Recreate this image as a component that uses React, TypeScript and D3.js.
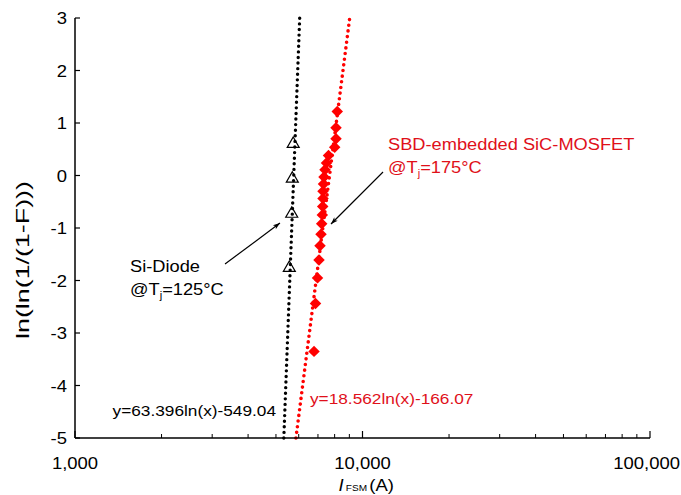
import React from 'react';
import * as d3 from 'd3';

// Si-Diode @ Tj=125°C, median-rank points
const diodeCurrent = [5565, 5673, 5700, 5741];
const diodeRank = [-1.75, -0.72, -0.05, 0.61];

// SBD-embedded SiC-MOSFET @ Tj=175°C, median-rank points
const mosCurrent = [6783, 6864, 6975, 7059, 7116, 7173, 7213, 7248, 7271, 7288,
    7288, 7317, 7347, 7406, 7496, 7616, 8004, 8087, 8087, 8171];
const mosRank = [-3.35, -2.44, -1.95, -1.61, -1.34, -1.12, -0.92, -0.75, -0.59, -0.44,
    -0.30, -0.16, -0.03, 0.11, 0.24, 0.38, 0.54, 0.70, 0.91, 1.22];

// trend lines (end points read at y=-5 and y=3)
const diodeFitX = [5325, 6047];
const mosFitX = [5868, 9026];
const fitY = [-5, 3];

const yTicks = [-5, -4, -3, -2, -1, 0, 1, 2, 3];
const xMajor = [1000, 10000, 100000];
const xMinor = [2000, 3000, 4000, 5000, 6000, 7000, 8000, 9000,
    20000, 30000, 40000, 50000, 60000, 70000, 80000, 90000];

const RED = '#ff0000';
const TEXT_RED = '#e0101a';
const FONT = 'Liberation Sans, Arial, sans-serif';
const STRETCH = 1.12; // text in the original is a little wider than it is tall

const width = 681;
const height = 495;
const margin = { top: 18, right: 31, bottom: 57, left: 75 };

// text drawn a bit wider, scaled about its anchor point
const Txt = ({ x, y, anchor = 'start', size = 16.5, fill = '#000', children }: any) => (
    <g transform={`translate(${x},${y}) scale(${STRETCH},1)`}>
        <text textAnchor={anchor} fontSize={size} fill={fill}>{children}</text>
    </g>
);

const App = () => {
    const x = d3.scaleLog()
        .domain([1000, 100000])
        .range([margin.left, width - margin.right]);

    const y = d3.scaleLinear()
        .domain([-5, 3])
        .range([height - margin.bottom, margin.top]);

    const line = d3.line<[number, number]>()
        .x(d => x(d[0]))
        .y(d => y(d[1]));

    const fit = (xs: number[]) => line(xs.map((v, i) => [v, fitY[i]] as [number, number])) || '';

    const tri = d3.symbol(d3.symbolTriangle, 62)() || '';
    const dia = d3.symbol(d3.symbolSquare, 66)() || '';

    const x0 = margin.left;
    const yBase = height - margin.bottom;
    const last = xMajor[xMajor.length - 1];

    return (
        <svg width={width} height={height} style={{ position: 'absolute', left: 0, top: 0, background: '#fff' }}
            fontFamily={FONT}>
            <defs>
                <marker id="arr" viewBox="0 0 10 10" refX="10" refY="5" markerWidth="9" markerHeight="7"
                    orient="auto" markerUnits="userSpaceOnUse">
                    <path d="M0,1.5 L10,5 L0,8.5 L2.5,5 Z" fill="#000" />
                </marker>
            </defs>

            {/* trend lines */}
            <path d={fit(diodeFitX)} stroke="#000" strokeWidth={3.4} strokeDasharray="0 5.6"
                strokeLinecap="round" fill="none" />
            <path d={fit(mosFitX)} stroke={RED} strokeWidth={3.6} strokeDasharray="0 5.7"
                strokeLinecap="round" fill="none" />

            {/* points */}
            {mosCurrent.map((c, i) => (
                <path key={'m' + i} d={dia} fill={RED}
                    transform={`translate(${x(c)},${y(mosRank[i])}) rotate(45)`} />
            ))}
            {diodeCurrent.map((c, i) => (
                <path key={'d' + i} d={tri} fill="none" stroke="#000" strokeWidth={1.2}
                    transform={`translate(${x(c)},${y(diodeRank[i]) + 0.5})`} />
            ))}

            {/* axes */}
            <line x1={x0} x2={width - margin.right} y1={yBase} y2={yBase} stroke="#000" strokeWidth={1.5} />
            <line x1={x0} x2={x0} y1={margin.top} y2={yBase} stroke="#000" strokeWidth={1.5} />
            {yTicks.map(t => (
                <g key={'yt' + t}>
                    <line x1={x0} x2={x0 + 5} y1={y(t)} y2={y(t)} stroke="#000" strokeWidth={1.2} />
                    <Txt x={x0 - 8} y={y(t) + 6} anchor="end">{t}</Txt>
                </g>
            ))}
            {xMajor.map(t => (
                <g key={'xt' + t}>
                    <line x1={x(t)} x2={x(t)} y1={yBase} y2={yBase - 7} stroke="#000" strokeWidth={1.2} />
                    {t === last
                        ? <Txt x={width - 1} y={yBase + 31} anchor="end">{d3.format(',')(t)}</Txt>
                        : <Txt x={x(t)} y={yBase + 31} anchor="middle">{d3.format(',')(t)}</Txt>}
                </g>
            ))}
            {xMinor.map(t => (
                <line key={'xm' + t} x1={x(t)} x2={x(t)} y1={yBase} y2={yBase - 4} stroke="#000" strokeWidth={1} />
            ))}

            {/* axis titles */}
            <Txt x={x(10000) - 24} y={height - 4} size={16.5}>
                <tspan fontStyle="italic">I</tspan>
                <tspan fontSize={9} dx={2}>FSM</tspan>
                <tspan dx={2}>(A)</tspan>
            </Txt>
            <text transform={`translate(29,260) rotate(-90)`} textAnchor="middle"
                fontSize={18} textLength={158} lengthAdjust="spacingAndGlyphs">ln(ln(1/(1-F)))</text>

            {/* equations */}
            <Txt x={276} y={416} anchor="end" size={15.4}>y=63.396ln(x)-549.04</Txt>
            <Txt x={310} y={404} size={15.4} fill={TEXT_RED}>y=18.562ln(x)-166.07</Txt>

            {/* annotations */}
            <line x1={x(3325)} y1={y(-1.686)} x2={x(5164)} y2={y(-0.905)} stroke="#000" strokeWidth={1.2}
                markerEnd="url(#arr)" />
            <Txt x={130} y={272} size={16.3}>Si-Diode</Txt>
            <Txt x={130} y={295} size={16.3}>
                @T<tspan fontSize={10} dy={4}>j</tspan><tspan dy={-4}>=125°C</tspan>
            </Txt>

            <line x1={x(11787)} y1={y(0.067)} x2={x(7771)} y2={y(-0.924)} stroke="#000" strokeWidth={1.2}
                markerEnd="url(#arr)" />
            <Txt x={388} y={150} size={16.3} fill={TEXT_RED}>SBD-embedded SiC-MOSFET</Txt>
            <Txt x={388} y={173} size={16.3} fill={TEXT_RED}>
                @T<tspan fontSize={10} dy={4}>j</tspan><tspan dy={-4}>=175°C</tspan>
            </Txt>
        </svg>
    );
};

export default App;
